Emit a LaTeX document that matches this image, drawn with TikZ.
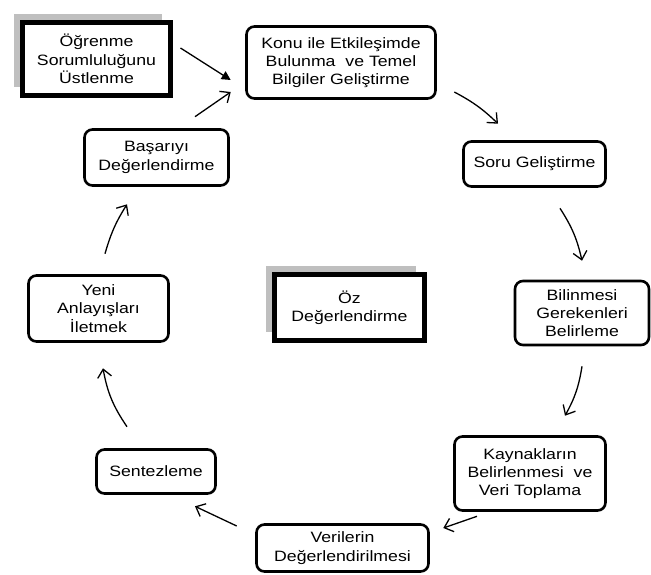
\documentclass[tikz,border=0pt]{standalone}
\usepackage{fontspec}
\setmainfont{Liberation Sans}[FakeStretch=1.18]
\usetikzlibrary{positioning,arrows.meta,shadows,calc}

\begin{document}
\begin{tikzpicture}[x=1pt,y=-1pt,
  txt/.style={align=center,inner sep=2pt,font=\fontsize{15}{18.3}\selectfont},
  box/.style={txt,draw,rounded corners=8pt,line width=2.6pt},
  bigbox/.style={txt,draw,line width=5pt,fill=white,
    drop shadow={shadow xshift=-9pt,shadow yshift=9pt,fill=gray!50,opacity=1}},
  arr/.style={line width=1.3pt,-{Straight Barb[length=8pt,width=14pt,line width=1.3pt]}},
  farr/.style={line width=1.3pt,-{Triangle[length=9pt,width=9pt]}}]
  \useasboundingbox (0,0) rectangle (651,574);
  \node[bigbox,minimum width=148,minimum height=73] (ogren) at (96.5,59) {Öğrenme\\Sorumluluğunu\\Üstlenme};
  \node[box,minimum width=189,minimum height=72] (konu) at (341,62.5) {Konu ile Etkileşimde\\Bulunma~ ve Temel\\Bilgiler Geliştirme};
  \node[box,minimum width=142,minimum height=45] (soru) at (534.5,164) {Soru Geliştirme};
  \node[box,minimum width=134,minimum height=64] (bilin) at (582,313) {Bilinmesi\\Gerekenleri\\Belirleme};
  \node[box,minimum width=151,minimum height=74] (kaynak) at (530,473.5) {Kaynakların\\Belirlenmesi~ ve\\Veri Toplama};
  \node[box,minimum width=172,minimum height=47] (veri) at (342.5,548) {Verilerin\\Değerlendirilmesi};
  \node[box,minimum width=119,minimum height=44] (sentez) at (156,471.5) {Sentezleme};
  \node[box,minimum width=140,minimum height=66] (yeni) at (98.5,308.5) {Yeni\\Anlayışları\\İletmek};
  \node[box,minimum width=144,minimum height=56] (basar) at (156.5,157.5) {Başarıyı\\Değerlendirme};
  \node[bigbox,minimum width=150,minimum height=66] (oz) at (349.5,307.5) {Öz\\Değerlendirme};

  \draw[farr] ($(ogren.east)+(7.5,-11)$) -- ($(konu.west)+(-14.5,17.5)$);
  \draw[arr] ($(basar.north)+(38.5,-11.5)$) -- ($(konu.west)+(-14.5,29.5)$);
  \draw[arr] ($(konu.east)+(17.5,29.5)$) to[bend left=8] ($(soru.north)+(-36.5,-16.5)$);
  \draw[arr] ($(soru.south)+(25.5,20.5)$) to[bend left=10] ($(bilin.north)+(0,-19)$);
  \draw[arr] ($(bilin.south)+(0,20)$) to[bend left=10] ($(kaynak.north)+(35,-19.5)$);
  \draw[arr] ($(kaynak.south)+(-53,4.5)$) -- ($(veri.east)+(13.5,-20)$);
  \draw[arr] ($(veri.west)+(-18.5,-22)$) -- ($(sentez.south)+(39,11.5)$);
  \draw[arr] ($(sentez.north)+(-29,-21.5)$) to[bend left=12] ($(yeni.south)+(4.5,25.5)$);
  \draw[arr] ($(yeni.north)+(6.5,-20.5)$) to[bend left=8] ($(basar.south)+(-29.5,17.5)$);
\end{tikzpicture}
\end{document}
